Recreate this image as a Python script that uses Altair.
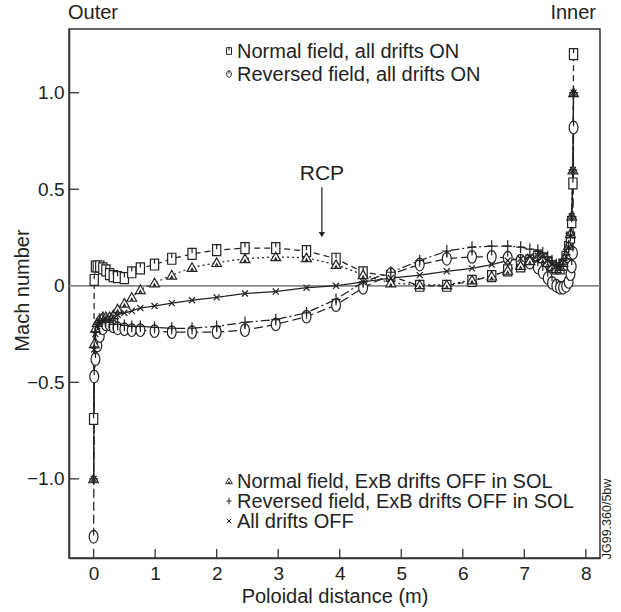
import altair as alt
import pandas as pd

# ---------------- data ----------------
X = [0.0, 0.01, 0.03, 0.06, 0.1, 0.15, 0.2, 0.26, 0.32, 0.39, 0.5, 0.62, 0.76, 0.99,
     1.27, 1.6, 2.0, 2.46, 2.96, 3.46, 3.94, 4.38, 4.83, 5.3, 5.74, 6.15, 6.47, 6.73,
     6.94, 7.09, 7.22, 7.3, 7.38, 7.45, 7.52, 7.58, 7.63, 7.68, 7.72, 7.75, 7.77, 7.79, 7.8]

Y_NORMAL_ON = [-0.69, 0.03, 0.1, 0.1, 0.1, 0.09, 0.08, 0.06, 0.05, 0.045, 0.04, 0.07, 0.09, 0.11,
               0.14, 0.165, 0.185, 0.195, 0.195, 0.18, 0.14, 0.07, 0.05, 0.0, 0.0, 0.025, 0.05, 0.08,
               0.1, 0.13, 0.15, 0.14, 0.12, 0.1, 0.09, 0.09, 0.11, 0.15, 0.2, 0.25, 0.33, 0.53, 1.2]

Y_REVERSED_ON = [-1.3, -0.47, -0.38, -0.31, -0.26, -0.22, -0.2, -0.2, -0.21, -0.22, -0.225, -0.23, -0.23, -0.235,
                 -0.24, -0.24, -0.24, -0.23, -0.2, -0.16, -0.1, -0.01, 0.06, 0.11, 0.14, 0.15, 0.15, 0.145,
                 0.13, 0.12, 0.095, 0.07, 0.04, 0.015, 0.0, -0.01, -0.01, 0.0, 0.02, 0.06, 0.1, 0.17, 0.82]

Y_NORMAL_EXB_OFF = [-1.0, -0.3, -0.22, -0.19, -0.17, -0.16, -0.16, -0.16, -0.15, -0.12, -0.09, -0.06, -0.02, 0.015,
                    0.055, 0.095, 0.12, 0.14, 0.15, 0.145, 0.11, 0.057, 0.015, 0.005, 0.005, 0.03, 0.05, 0.08,
                    0.105, 0.13, 0.15, 0.14, 0.12, 0.1, 0.09, 0.1, 0.12, 0.16, 0.21, 0.27, 0.36, 0.6, 1.0]

Y_REVERSED_EXB_OFF = [-1.0, -0.32, -0.24, -0.2, -0.18, -0.17, -0.18, -0.19, -0.2, -0.2, -0.205, -0.21, -0.21, -0.215,
                      -0.22, -0.22, -0.21, -0.19, -0.175, -0.14, -0.07, 0.02, 0.07, 0.13, 0.18, 0.2, 0.205, 0.205,
                      0.2, 0.19, 0.185, 0.17, 0.15, 0.13, 0.11, 0.11, 0.13, 0.16, 0.2, 0.26, 0.36, 0.6, 1.0]

Y_ALL_OFF = [-1.0, -0.33, -0.25, -0.21, -0.19, -0.18, -0.17, -0.165, -0.16, -0.15, -0.14, -0.13, -0.115, -0.105,
             -0.09, -0.075, -0.06, -0.04, -0.03, -0.01, 0.0, 0.02, 0.04, 0.055, 0.075, 0.09, 0.11, 0.13,
             0.14, 0.15, 0.155, 0.15, 0.13, 0.11, 0.1, 0.1, 0.12, 0.15, 0.2, 0.26, 0.36, 0.6, 1.0]

SERIES = ["Normal field, all drifts ON",
          "Reversed field, all drifts ON",
          "Normal field, ExB drifts OFF in SOL",
          "Reversed field, ExB drifts OFF in SOL",
          "All drifts OFF"]
SERIES_Y = [Y_NORMAL_ON, Y_REVERSED_ON, Y_NORMAL_EXB_OFF, Y_REVERSED_EXB_OFF, Y_ALL_OFF]

X_TICKS = [0, 1, 2, 3, 4, 5, 6, 7, 8]
Y_TICKS = [-1.0, -0.5, 0.5, 1.0]
Y_LABELS = [-1.0, -0.5, 0, 0.5, 1.0]

RCP_X = 3.71
RCP_TEXT_Y = 0.58
RCP_ARROW_TOP = 0.51
RCP_ARROW_TIP = 0.265

# ---------------- styles ----------------
FONT = "Liberation Sans"
INK = "#222"
W, H = 531, 529
PATHS = [
    "M-0.75,-1L0.75,-1L0.75,1L-0.75,1Z M0,-1L0,-0.15",
    "M0,-1 A0.7,1 0 1 1 0,1 A0.7,1 0 1 1 0,-1 Z M0,-1L0,-0.2",
    "M0,-0.95L1,0.8L-1,0.8Z M-0.3,0.8L0,0.2L0.3,0.8",
    "M-0.75,0L0.75,0 M0,-1L0,1",
    "M-0.7,-0.7L0.7,0.7 M-0.7,0.7L0.7,-0.7",
]
SIZES = [120, 160, 95, 140, 75]
DASHES = [[6, 4], [9, 4], [2, 3], [9, 3, 2, 3], [1, 0]]

rows = []
for name, ys in zip(SERIES, SERIES_Y):
    for i, (xv, yv) in enumerate(zip(X, ys)):
        rows.append({"series": name, "x": xv, "y": yv, "i": i})
df = pd.DataFrame(rows)

xs = alt.Scale(domain=[-0.40, 8.23], nice=False, zero=False)
ys_ = alt.Scale(domain=[-1.41, 1.33], nice=False, zero=False)
XT = "Poloidal distance (m)"
YT = "Mach number"

x_axis = alt.Axis(values=X_TICKS, tickSize=0, labelPadding=6, titlePadding=3, format="d",
                  labelFontSize=19, titleFontSize=20)
y_axis = alt.Axis(values=Y_LABELS, tickSize=0, labelPadding=5,
                  titleX=-47, titleY=261, titleAngle=270, titleBaseline="middle", titleAlign="center",
                  labelExpr="datum.value == 0 ? '0' : replace(format(datum.value, '.1f'), '-', '\u2212')",
                  labelFontSize=19, titleFontSize=20)

zero = alt.Chart(pd.DataFrame({"y": [0]})).mark_rule(color="#888", strokeWidth=1.8).encode(
    y=alt.Y("y:Q", scale=ys_, axis=y_axis, title=YT)
)

lines = alt.Chart(df).mark_line(color=INK, strokeWidth=1.25).encode(
    x=alt.X("x:Q", scale=xs, axis=x_axis, title=XT),
    y=alt.Y("y:Q", scale=ys_, title=YT),
    strokeDash=alt.StrokeDash("series:N", scale=alt.Scale(domain=SERIES, range=DASHES), legend=None),
    order="i:Q",
)

layers = [zero, lines]
for name, path, size in zip(SERIES, PATHS, SIZES):
    pts = alt.Chart(df[df.series == name]).mark_point(
        filled=True, fill="white", stroke=INK, strokeWidth=1.2, opacity=1, shape=path, size=size
    ).encode(
        x=alt.X("x:Q", scale=xs, title=XT),
        y=alt.Y("y:Q", scale=ys_, title=YT),
    )
    layers.append(pts)

# inward ticks
xt = alt.Chart(pd.DataFrame({"x": X_TICKS})).mark_rule(color="#333", strokeWidth=1.3).encode(
    x=alt.X("x:Q", scale=xs, title=XT), y=alt.value(H), y2=alt.value(H - 9)
)
yt = alt.Chart(pd.DataFrame({"y": Y_TICKS})).mark_rule(color="#333", strokeWidth=1.3).encode(
    y=alt.Y("y:Q", scale=ys_, title=YT), x=alt.value(0), x2=alt.value(10)
)
layers += [xt, yt]

# RCP annotation
rcp = pd.DataFrame({"x": [RCP_X], "y": [RCP_TEXT_Y], "y_top": [RCP_ARROW_TOP], "y_tip": [RCP_ARROW_TIP]})
layers.append(alt.Chart(rcp).mark_text(font=FONT, fontSize=21, color=INK).encode(
    x=alt.X("x:Q", scale=xs, title=XT), y=alt.Y("y:Q", scale=ys_, title=YT), text=alt.value("RCP")))
layers.append(alt.Chart(rcp).mark_rule(color=INK, strokeWidth=1.2).encode(
    x=alt.X("x:Q", scale=xs, title=XT), y=alt.Y("y_top:Q", scale=ys_, title=YT), y2="y_tip:Q"))
layers.append(alt.Chart(rcp).mark_point(shape="triangle-down", filled=True, color=INK, opacity=1, size=40).encode(
    x=alt.X("x:Q", scale=xs, title=XT), y=alt.Y("y_tip:Q", scale=ys_, title=YT)))

# manual legends
LEG_X = 160
legend_rows = [(0, 22), (1, 45), (2, 452), (3, 472), (4, 492)]
one = pd.DataFrame({"k": [0]})
for idx, ypix in legend_rows:
    layers.append(alt.Chart(one).mark_point(
        filled=True, fill="white", stroke=INK, strokeWidth=1, opacity=1, shape=PATHS[idx], size=45
    ).encode(x=alt.value(LEG_X), y=alt.value(ypix)))
    layers.append(alt.Chart(one).mark_text(font=FONT, fontSize=20, color=INK, align="left", baseline="middle").encode(
        x=alt.value(LEG_X + 8), y=alt.value(ypix + 1), text=alt.value(SERIES[idx])))

# outside labels
layers.append(alt.Chart(one).mark_text(font=FONT, fontSize=20, color=INK, align="left", baseline="middle").encode(
    x=alt.value(-1), y=alt.value(-16), text=alt.value("Outer")))
layers.append(alt.Chart(one).mark_text(font=FONT, fontSize=20, color=INK, align="right", baseline="middle").encode(
    x=alt.value(W - 4), y=alt.value(-16), text=alt.value("Inner")))
layers.append(alt.Chart(one).mark_text(font=FONT, fontSize=12.5, color=INK, angle=270, baseline="middle").encode(
    x=alt.value(W + 7), y=alt.value(490), text=alt.value("JG99.360/5bw")))

chart = alt.layer(*layers).properties(
    width=W, height=H,
    autosize=alt.AutoSizeParams(type="none"),
    padding={"left": 69, "top": 29, "right": 21, "bottom": 54},
).configure_view(stroke="#333", strokeWidth=1.5).configure_axis(
    grid=False, labelFont=FONT, titleFont=FONT, labelColor=INK, titleColor=INK,
    domainColor="#333", domainWidth=1.5, titleFontWeight="normal"
)

chart.save("out.html", embed_options={"renderer": "svg", "actions": False})
